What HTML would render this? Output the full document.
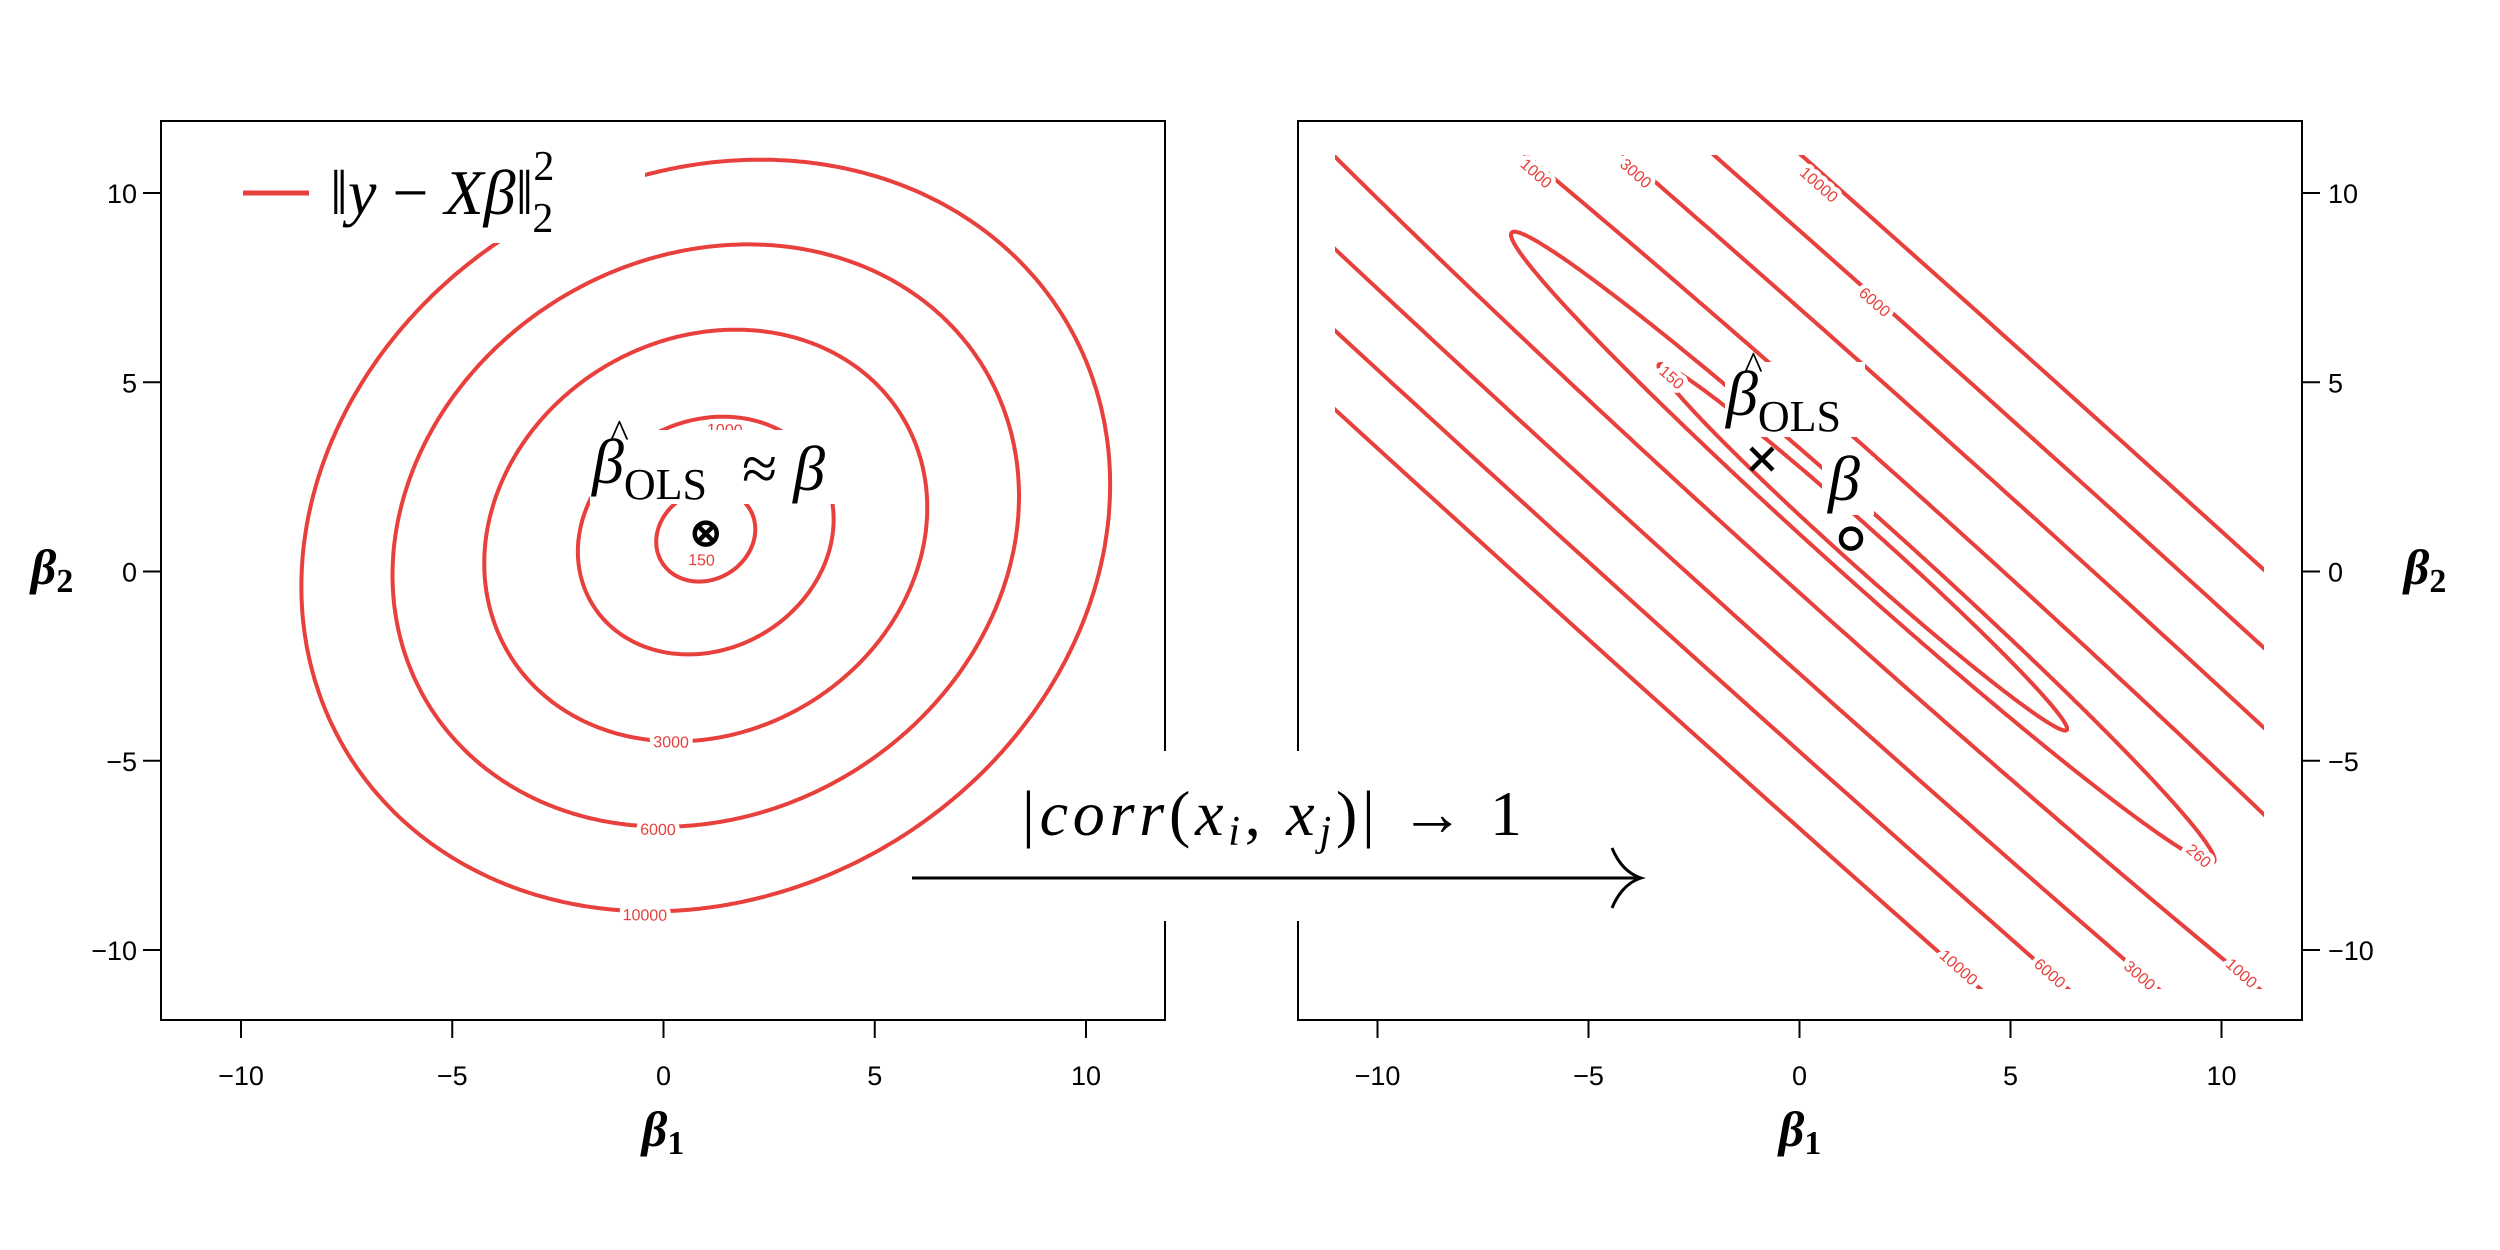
<!DOCTYPE html>
<html><head><meta charset="utf-8">
<style>
html,body{margin:0;padding:0;background:#fff;width:2500px;height:1250px;overflow:hidden;position:relative;}
svg{display:block;position:absolute;left:0;top:0;}
.tick{font-family:"Liberation Sans",sans-serif;font-size:27px;fill:#000;}
.math{font-family:"Liberation Serif","DejaVu Serif",serif;fill:#000;}
.clab{font-family:"Liberation Sans",sans-serif;font-size:16px;fill:#e8403c;stroke:#fff;stroke-width:9px;paint-order:stroke;stroke-linejoin:round;}
</style></head>
<body>
<svg id="chart" width="2500" height="1250" viewBox="0 0 2500 1250" xmlns="http://www.w3.org/2000/svg" overflow="hidden">
<defs>
<clipPath id="clipR"><rect x="1335" y="155" width="929" height="834"/></clipPath>
</defs>
<rect x="0" y="0" width="2500" height="1250" fill="#fff"/>
<g id="left"></g>
<g id="right"></g>
<g id="overlay"></g>
</svg>
<script>
// ---- data ----
const ticks = [-10, -5, 0, 5, 10];
const tickLabels = ["\u221210", "\u22125", "0", "5", "10"];
const leftLevels = [150, 1000, 3000, 6000, 10000];
const leftCenter = [1.0, 0.95];
const leftQuad = [111.2, -14.5, 103.3]; // a, b, d
const leftMin = 0;
const leftLabelPts = [[0.9, 0.32], [1.45, 3.76], [0.18, -4.49], [-0.13, -6.8], [-0.44, -9.06]];
const leftLabelText = ["150", "1000", "3000", "6000", "10000"];
const rightLevels = [150, 260, 1000, 3000, 6000, 10000];
const rightCenter = [1.5, 0.64];
const rightQuad = [124.6, 123.4, 124.6];
const rightMin = 94;
const rightLabelPts = [[-3.02, 5.14], [9.47, -7.5], [-6.23, 10.53], [-3.87, 10.53], [0.47, 10.23], [1.79, 7.13], [3.78, -10.45], [5.94, -10.6], [8.07, -10.66], [10.48, -10.6]];
const rightLabelText = ["150", "260", "1000", "3000", "10000", "6000", "10000", "6000", "3000", "1000"];
const olsLeft = [1.0, 1.0];
const olsRight = [-0.89, 2.97];
const betaRight = [1.22, 0.87];

// ---- axes ----
const NS = "http://www.w3.org/2000/svg";
const xL = b => 663.5 + 42.25 * b;
const xR = b => 1799.5 + 42.2 * b;
const yA = b => 571.5 - 37.85 * b;
const SX = 42.2, SY = 37.85;
const RED = "#e8403c";

function mk(tag, attrs, parent) {
  const e = document.createElementNS(NS, tag);
  for (const k in attrs) e.setAttribute(k, attrs[k]);
  parent.appendChild(e);
  return e;
}

function ellipsePath(quad, m, L, c, xf) {
  const [a, b, d] = quad;
  const th = 0.5 * Math.atan2(2 * b, a - d);
  const mean = (a + d) / 2, rad = Math.sqrt(((a - d) / 2) ** 2 + b * b);
  const l1 = mean + rad, l2 = mean - rad;
  const r1 = Math.sqrt((L - m) / l1), r2 = Math.sqrt((L - m) / l2);
  const e1 = [Math.cos(th), Math.sin(th)], e2 = [-Math.sin(th), Math.cos(th)];
  let s = "";
  for (let i = 0; i <= 720; i++) {
    const t = i / 720 * 2 * Math.PI;
    const u = r1 * Math.cos(t) * e1[0] + r2 * Math.sin(t) * e2[0];
    const v = r1 * Math.cos(t) * e1[1] + r2 * Math.sin(t) * e2[1];
    s += (i ? "L" : "M") + xf(c[0] + u).toFixed(1) + "," + yA(c[1] + v).toFixed(1);
  }
  return s + "Z";
}

function labelAngle(quad, c, p) {
  const [a, b, d] = quad;
  const u = p[0] - c[0], v = p[1] - c[1];
  const gx = a * u + b * v, gy = b * u + d * v;
  let tx = -gy * SX, ty = -gx * SY;
  let ang = Math.atan2(ty, tx) * 180 / Math.PI;
  if (ang > 90) ang -= 180;
  if (ang < -90) ang += 180;
  return ang;
}

function axes(g, xf, side) {
  const x0 = side === "L" ? 161 : 1298, x1 = side === "L" ? 1165 : 2302;
  const box = mk("rect", {x: x0, y: 121, width: x1 - x0, height: 899, fill: "none", stroke: "#000", "stroke-width": 2}, g);
  
  
  ticks.forEach((t, i) => {
    const px = xf(t);
    const tl = mk("line", {x1: px, y1: 1020, x2: px, y2: 1038, stroke: "#000", "stroke-width": 2}, g);
    
    
    const tx = mk("text", {x: px, y: 1085, "text-anchor": "middle", class: "tick"}, g);
    tx.textContent = tickLabels[i];
    
    
    const py = yA(t);
    const yl = side === "L" ? mk("line", {x1: 143, y1: py, x2: 161, y2: py, stroke: "#000", "stroke-width": 2}, g)
                            : mk("line", {x1: 2302, y1: py, x2: 2320, y2: py, stroke: "#000", "stroke-width": 2}, g);
    
    
    const ty = side === "L" ? mk("text", {x: 137, y: py + 10, "text-anchor": "end", class: "tick"}, g)
                            : mk("text", {x: 2328, y: py + 10, "text-anchor": "start", class: "tick"}, g);
    ty.textContent = tickLabels[i];
    
    
  });
  const xt = mk("text", {x: (x0 + x1) / 2, y: 1146, "text-anchor": "middle", class: "math", "font-size": 50, "font-weight": "bold", "font-style": "italic"}, g);
  xt.innerHTML = 'β<tspan font-size="34" font-style="normal" dy="8">1</tspan>';
  
  
  const yx = side === "L" ? 52 : 2425;
  const yt = mk("text", {x: yx, y: 584, "text-anchor": "middle", class: "math", "font-size": 50, "font-weight": "bold", "font-style": "italic"}, g);
  yt.innerHTML = 'β<tspan font-size="34" font-style="normal" dy="8">2</tspan>';
  
  
}

function contours(g, levels, quad, m, c, xf, clip) {
  const cg = mk("g", clip ? {"clip-path": "url(#" + clip + ")"} : {}, g);
  levels.forEach(L => {
    const p = mk("path", {d: ellipsePath(quad, m, L, c, xf), fill: "none", stroke: RED, "stroke-width": 4}, cg);
    
    
  });
}

function labels(g, pts, txt, quad, c, xf, fixedAng) {
  pts.forEach((p, i) => {
    const px = xf(p[0]), py = yA(p[1]);
    const ang = fixedAng !== undefined ? fixedAng : labelAngle(quad, c, p);
    const t = mk("text", {x: px, y: py + 6, "text-anchor": "middle", class: "clab", transform: `rotate(${ang.toFixed(1)} ${px} ${py})`}, g);
    t.textContent = txt[i];
    
    
  });
}

const gl = document.getElementById("left"), gr = document.getElementById("right"), go = document.getElementById("overlay");
contours(gl, leftLevels, leftQuad, leftMin, leftCenter, xL, null);
labels(gl, leftLabelPts, leftLabelText, leftQuad, leftCenter, xL);
axes(gl, xL, "L");
contours(gr, rightLevels, rightQuad, rightMin, rightCenter, xR, "clipR");
labels(gr, rightLabelPts, rightLabelText, rightQuad, rightCenter, xR, 41.5);
axes(gr, xR, "R");

// ---- overlays ----
function wrect(x, y, w, h, name) {
  const r = mk("rect", {x, y, width: w, height: h, fill: "#fff"}, go);
  
  
}
wrect(165, 125, 480, 118, 'legend-background');
wrect(590, 430, 272, 74, 'annotation-background');
wrect(1725, 362, 140, 75, 'annotation-background');
wrect(1822, 457, 52, 58, 'annotation-background');
wrect(1015, 775, 515, 75, 'arrow-label-background');
wrect(1150, 751, 160, 170, 'arrow-background');

// legend
const ll = mk("line", {x1: 243, y1: 193, x2: 309, y2: 193, stroke: RED, "stroke-width": 5}, go);


const lt = mk("text", {x: 330, y: 214, class: "math", "font-size": 64}, go);
lt.innerHTML = '‖<tspan font-style="italic">y</tspan> − <tspan font-style="italic">Xβ</tspan>‖<tspan font-size="42" dy="-34">2</tspan><tspan font-size="42" dx="-22" dy="52">2</tspan>';



function betaHat(x, y, name) {
  const t = mk("text", {x, y, class: "math", "font-size": 64}, go);
  t.innerHTML = '<tspan font-style="italic">β</tspan><tspan font-size="44" dy="16">OLS</tspan>';
  
  
  const h = mk("text", {x: x + 18, y: y - 36, class: "math", "font-size": 40}, go);
  h.textContent = "^";
  
  
}
betaHat(592, 483, 'beta-ols-approx-label');
const ap = mk("text", {x: 742, y: 490, class: "math", "font-size": 64}, go);
ap.innerHTML = '≈ <tspan font-style="italic">β</tspan>';


betaHat(1726, 415, 'beta-ols-label');
const br = mk("text", {x: 1828, y: 500, class: "math", "font-size": 64, "font-style": "italic"}, go);
br.textContent = "β";



// markers
function cross(px, py, r, name) {
  const p = mk("path", {d: `M${px - r},${py - r}L${px + r},${py + r}M${px - r},${py + r}L${px + r},${py - r}`, stroke: "#000", "stroke-width": 4.5, fill: "none"}, go);
  
  
}
function circ(px, py, r, name) {
  const c = mk("circle", {cx: px, cy: py, r, stroke: "#000", "stroke-width": 4.5, fill: "none"}, go);
  
  
}
circ(xL(olsLeft[0]), yA(olsLeft[1]), 11, 'beta-true-marker');
cross(xL(olsLeft[0]), yA(olsLeft[1]), 9, 'beta-ols-marker');
cross(xR(olsRight[0]), yA(olsRight[1]), 11, 'beta-ols-marker');
circ(xR(betaRight[0]), yA(betaRight[1]), 10, 'beta-true-marker');

// arrow
const ct = mk("text", {x: 1022, y: 835, class: "math", "font-size": 64, textLength: 500}, go);
ct.innerHTML = '|<tspan font-style="italic">corr</tspan>(<tspan font-style="italic">x</tspan><tspan font-size="42" font-style="italic" dy="10">i</tspan><tspan dy="-10">, </tspan><tspan font-style="italic">x</tspan><tspan font-size="42" font-style="italic" dy="10">j</tspan><tspan dy="-10">)| → 1</tspan>';


const ar = mk("path", {d: "M912,878L1640,878M1612,848Q1622,872 1641,878Q1622,884 1612,908", stroke: "#000", "stroke-width": 3, fill: "none"}, go);


</script>
</body></html>
